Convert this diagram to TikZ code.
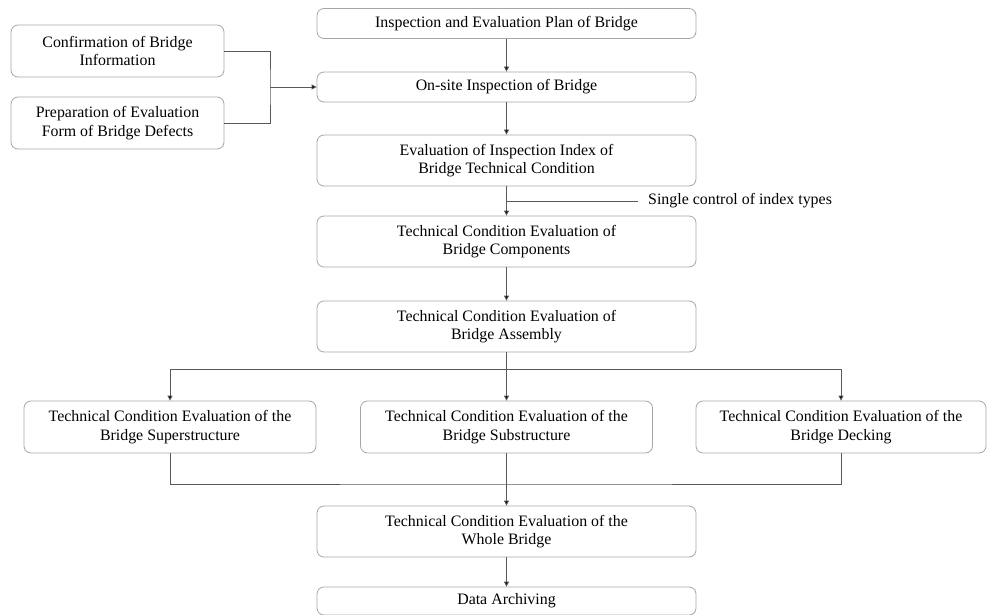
\documentclass[tikz,border=0pt]{standalone}
\usepackage{fontspec}
\setmainfont{Liberation Serif}
\usetikzlibrary{arrows.meta}

\begin{document}
\begin{tikzpicture}[x=1pt, y=-1pt,
    box/.style={draw=black!35, line width=0.8pt, rounded corners=7pt, align=center,
        inner sep=0, font=\fontsize{15.9}{18.5}\selectfont},
    wide/.style={box, minimum width=379pt},
    side/.style={box, minimum width=213pt, minimum height=52pt},
    low/.style={box, minimum width=292pt, minimum height=52pt},
    link/.style={draw=black!65, line width=0.8pt},
    arrow/.style={link, -{Triangle[length=5pt, width=5pt, fill=black]}}]
    \useasboundingbox (0,0) rectangle (987,615);
    \node[wide, minimum height=30pt] (plan) at (506.5,23.5) {Inspection and Evaluation Plan of Bridge};
    \node[wide, minimum height=30pt] (onsite) at (506.5,87) {On-site Inspection of Bridge};
    \node[wide, minimum height=51pt] (index) at (506.5,160.5) {Evaluation of Inspection Index of\\Bridge Technical Condition};
    \node[wide, minimum height=51pt] (comp) at (506.5,241.5) {Technical Condition Evaluation of\\Bridge Components};
    \node[wide, minimum height=51pt] (assem) at (506.5,326.5) {Technical Condition Evaluation of\\Bridge Assembly};
    \node[low] (sup) at (170,427) {Technical Condition Evaluation of the\\Bridge Superstructure};
    \node[low] (sub) at (506.5,427) {Technical Condition Evaluation of the\\Bridge Substructure};
    \node[low, minimum width=290pt] (deck) at (841,427) {Technical Condition Evaluation of the\\Bridge Decking};
    \node[wide, minimum height=51pt] (whole) at (506.5,531.5) {Technical Condition Evaluation of the\\Whole Bridge};
    \node[wide, minimum height=28pt] (archive) at (506.5,601) {Data Archiving};
    \node[side] (conf) at (117.5,51) {Confirmation of Bridge\\Information};
    \node[side] (prep) at (117.5,123) {Preparation of Evaluation\\Form of Bridge Defects};
    \node[font=\fontsize{15.9}{18.5}\selectfont, anchor=west, inner sep=0] (ctl) at (648,201) {Single control of index types};

    \coordinate (join) at (270,87);
    \coordinate (tap) at (506.5,201);
    \coordinate (split) at (506.5,369);
    \coordinate (merge) at (506.5,484);

    \draw[link] (conf.east) -| (join) |- (prep.east);
    \draw[arrow] (join) -- (onsite.west);
    \draw[arrow] (plan) -- (onsite);
    \draw[arrow] (onsite) -- (index);
    \draw[arrow] (index) -- (comp);
    \draw[link] (tap) -- ([xshift=-10pt]ctl.west);
    \draw[arrow] (comp) -- (assem);
    \draw[arrow] (assem) -- (sub);
    \draw[arrow] (split) -| (sup.north);
    \draw[arrow] (split) -| (deck.north);
    \draw[link] (sup.south) |- (merge) -| (deck.south);
    \draw[arrow] (sub) -- (whole);
    \draw[arrow] (whole) -- (archive);
\end{tikzpicture}
\end{document}
